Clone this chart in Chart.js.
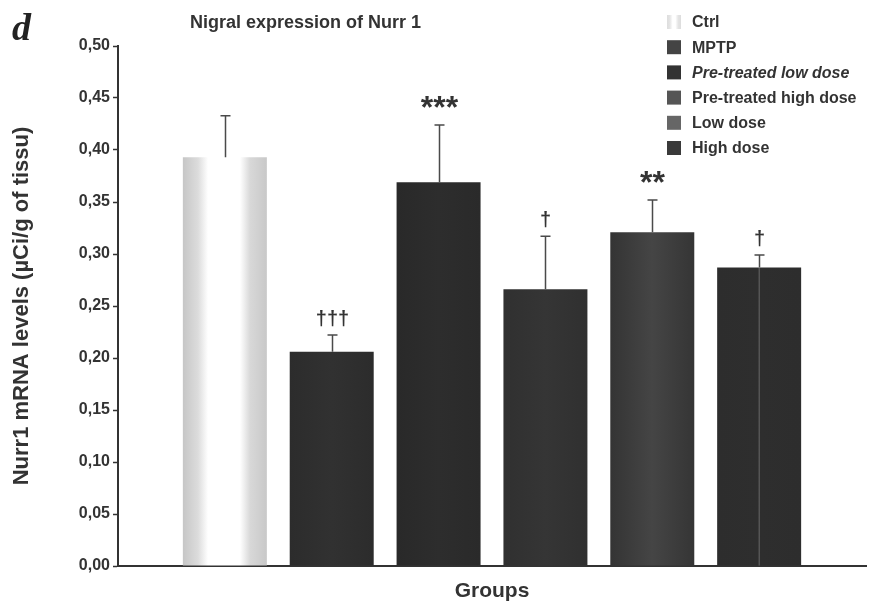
<!DOCTYPE html>
<html lang="en">
<head>
    <meta charset="UTF-8">
    <title>Nigral expression of Nurr 1</title>
    <script src="https://cdn.jsdelivr.net/npm/chart.js"></script>
    <style>
        html, body {
            margin: 0;
            padding: 0;
            background: #fff;
        }
        .chart-box {
            position: relative;
            width: 871px;
            height: 606px;
        }
    </style>
</head>
<body>
    <div class="chart-box">
        <canvas id="nurrChart"></canvas>
    </div>

    <script>
        // Groups and values
        const groups = ['Ctrl', 'MPTP', 'Pre-treated low dose', 'Pre-treated high dose', 'Low dose', 'High dose'];
        const means = [0.393, 0.206, 0.369, 0.266, 0.321, 0.287];
        const errors = [0.040, 0.016, 0.055, 0.051, 0.031, 0.012];
        const marks = ['', '\u2020\u2020\u2020', '***', '\u2020', '**', '\u2020'];
        const yTicks = [0, 0.05, 0.10, 0.15, 0.20, 0.25, 0.30, 0.35, 0.40, 0.45, 0.50];

        const FONT = "'Liberation Sans', Arial, sans-serif";
        const ink = '#333';

        // bar shading, one per group
        const legendColors = ['#e8e8e8', '#444', '#333', '#555', '#666', '#3a3a3a'];
        const shades = [
            [[0, '#c6c6c6'], [0.18, '#dcdcdc'], [0.3, '#fff'], [0.68, '#fff'], [0.8, '#d8d8d8'], [1, '#c8c8c8']],
            [[0, '#2c2c2c'], [0.5, '#313131'], [1, '#2c2c2c']],
            [[0, '#292929'], [0.5, '#2d2d2d'], [1, '#2a2a2a']],
            [[0, '#303030'], [0.5, '#353535'], [1, '#303030']],
            [[0, '#343434'], [0.5, '#454545'], [1, '#353535']],
            [[0, '#2d2d2d'], [0.49, '#2e2e2e'], [0.495, '#555'], [0.505, '#555'], [0.51, '#2e2e2e'], [1, '#2d2d2d']]
        ];

        // empty slot on each side keeps the bars off the axes
        const labels = ['', ...groups, ''];
        const barData = [null, ...means, null];

        function barFill(context) {
            const i = context.dataIndex - 1;
            const chart = context.chart;
            const x = chart.scales.x;
            if (i < 0 || i >= groups.length || !x) return '#333';
            const cx = x.getPixelForValue(context.dataIndex);
            const half = 42;
            const g = chart.ctx.createLinearGradient(cx - half, 0, cx + half, 0);
            shades[i].forEach(s => g.addColorStop(s[0], s[1]));
            return g;
        }

        const extrasPlugin = {
            id: 'extras',
            afterDatasetsDraw(chart) {
                const ctx = chart.ctx;
                const x = chart.scales.x;
                const y = chart.scales.y;
                ctx.save();
                // error bars (upper only) and significance marks
                groups.forEach((g, i) => {
                    const cx = Math.round(x.getPixelForValue(i + 1)) + 0.5;
                    const yBar = y.getPixelForValue(means[i]);
                    const yErr = y.getPixelForValue(means[i] + errors[i]);
                    ctx.strokeStyle = '#4a4a4a';
                    ctx.lineWidth = 1.5;
                    ctx.beginPath();
                    ctx.moveTo(cx, yBar);
                    ctx.lineTo(cx, yErr);
                    ctx.moveTo(cx - 5, yErr);
                    ctx.lineTo(cx + 5, yErr);
                    ctx.stroke();

                    if (marks[i]) {
                        ctx.fillStyle = ink;
                        ctx.textAlign = 'center';
                        if (marks[i][0] === '*') {
                            ctx.font = 'bold 32px ' + FONT;
                            ctx.textBaseline = 'alphabetic';
                            ctx.fillText(marks[i], cx, yErr - 7);
                        } else {
                            ctx.font = 'bold 20px ' + FONT;
                            ctx.textBaseline = 'middle';
                            ctx.fillText(marks[i], cx, yErr - 16);
                        }
                    }
                });
                ctx.restore();
            },
            afterDraw(chart) {
                const ctx = chart.ctx;
                ctx.save();
                // panel letter
                ctx.fillStyle = '#222';
                ctx.font = "italic bold 38px 'Liberation Serif', 'DejaVu Serif', serif";
                ctx.textAlign = 'left';
                ctx.textBaseline = 'alphabetic';
                ctx.fillText('d', 12, 40);

                // title
                ctx.fillStyle = ink;
                ctx.font = 'bold 18px ' + FONT;
                ctx.textBaseline = 'middle';
                ctx.fillText('Nigral expression of Nurr 1', 190, 23);

                // legend
                groups.forEach((g, i) => {
                    const ly = 22 + i * 25.2;
                    if (i === 0) {
                        const grad = ctx.createLinearGradient(667, 0, 681, 0);
                        grad.addColorStop(0, '#ddd');
                        grad.addColorStop(0.2, '#e4e4e4');
                        grad.addColorStop(0.4, '#fff');
                        grad.addColorStop(0.6, '#fff');
                        grad.addColorStop(0.8, '#e4e4e4');
                        grad.addColorStop(1, '#ddd');
                        ctx.fillStyle = grad;
                    } else {
                        ctx.fillStyle = legendColors[i];
                    }
                    ctx.fillRect(667, ly - 7, 14, 14);
                    ctx.fillStyle = ink;
                    ctx.font = (i === 2 ? 'italic bold 16px ' : 'bold 16px ') + FONT;
                    ctx.textBaseline = 'middle';
                    ctx.fillText(g, 692, ly + 1);
                });
                ctx.restore();
            }
        };

        new Chart(document.getElementById('nurrChart'), {
            type: 'bar',
            data: {
                labels: labels,
                datasets: [{
                    label: 'Nurr1',
                    data: barData,
                    backgroundColor: barFill,
                    borderWidth: 0,
                    barPercentage: 0.786,
                    categoryPercentage: 1
                }]
            },
            options: {
                responsive: true,
                maintainAspectRatio: false,
                animation: false,
                layout: {
                    padding: { top: 46, right: 5, left: 0, bottom: 0 }
                },
                plugins: {
                    legend: { display: false },
                    tooltip: { enabled: false }
                },
                scales: {
                    x: {
                        offset: false,
                        grid: { display: false },
                        border: { display: true, color: ink, width: 2 },
                        ticks: { display: false },
                        title: {
                            display: true,
                            text: 'Groups',
                            color: ink,
                            font: { family: FONT, size: 21, weight: 'bold' },
                            padding: { top: 0, bottom: 2 }
                        },
                        afterFit: s => { s.height = 40; }
                    },
                    y: {
                        min: 0,
                        max: 0.5,
                        afterBuildTicks: s => { s.ticks = yTicks.map(v => ({ value: v })); },
                        grid: {
                            drawOnChartArea: false,
                            drawTicks: true,
                            tickLength: 5,
                            tickWidth: 1.5,
                            tickColor: ink
                        },
                        border: { display: true, color: ink, width: 2 },
                        ticks: {
                            color: ink,
                            padding: 3,
                            font: { family: FONT, size: 16, weight: 'bold' },
                            callback: v => v.toFixed(2).replace('.', ',')
                        },
                        title: {
                            display: true,
                            text: 'Nurr1 mRNA levels (\u00b5Ci/g of tissu)',
                            color: ink,
                            font: { family: FONT, size: 22, weight: 'bold' },
                            padding: { top: 9, bottom: 0 }
                        },
                        afterFit: s => { s.width = 118; }
                    }
                }
            },
            plugins: [extrasPlugin]
        });
    </script>
</body>
</html>
